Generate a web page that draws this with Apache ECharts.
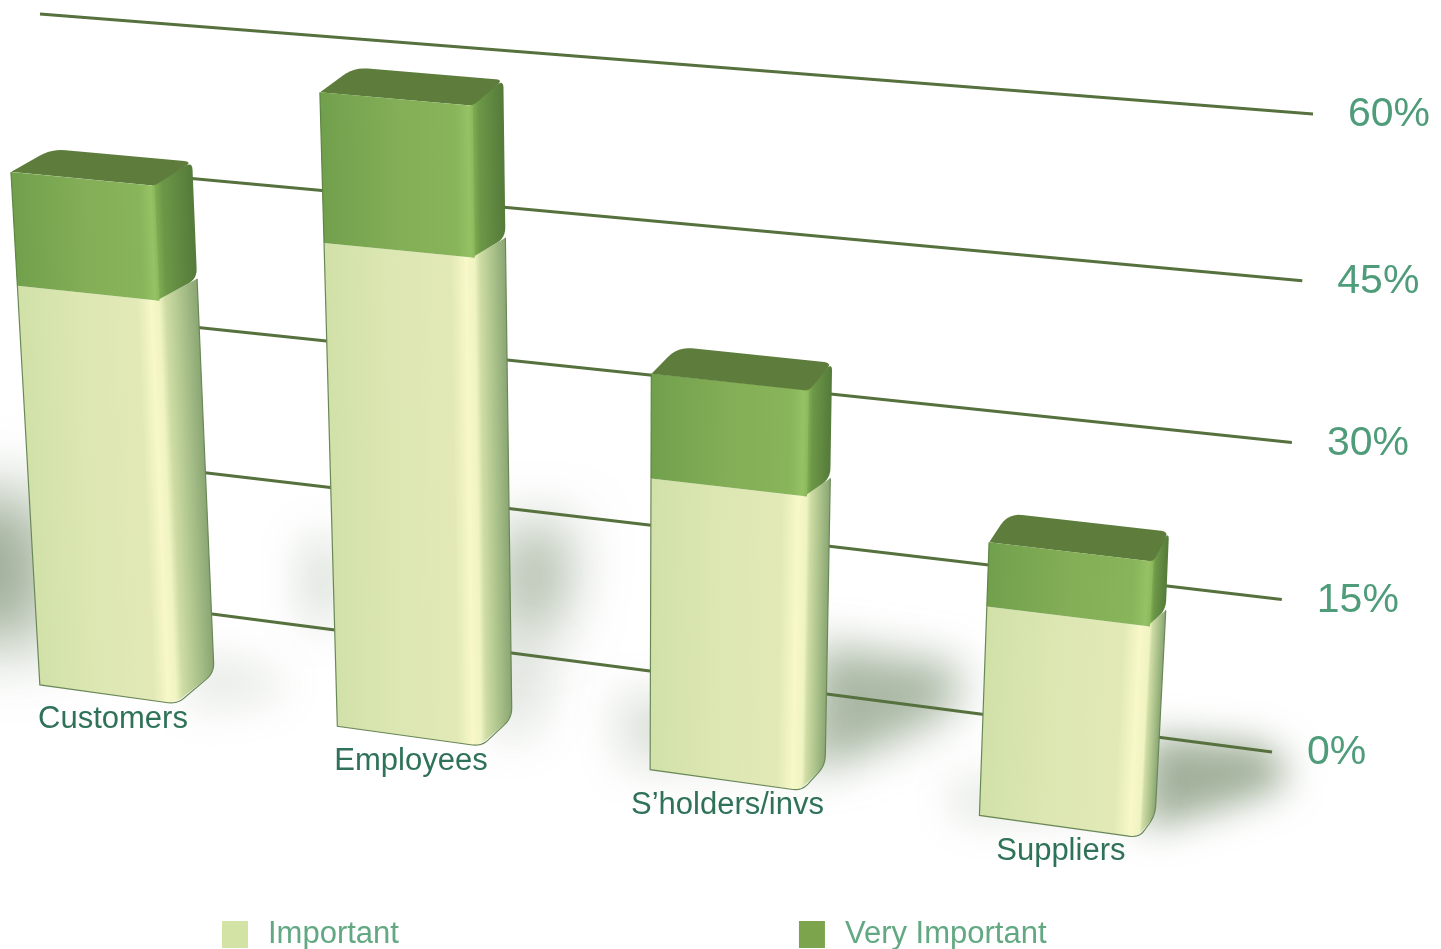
<!DOCTYPE html>
<html>
<head>
<meta charset="utf-8">
<title>Importance by stakeholder group</title>
<style>
  html, body { margin: 0; padding: 0; background: #fff; }
  #chart { width: 1441px; height: 949px; }
</style>
<script src="https://cdn.jsdelivr.net/npm/echarts@6/dist/echarts.min.js"></script>
</head>
<body>
<div id="chart"></div>
<script>
// Chart data
const categories = ['Customers', 'Employees', 'S\u2019holders/invs', 'Suppliers'];
const important = [36.8, 43.3, 26, 18.4];
const veryImportant = [10, 12.7, 9, 5.5];
const percentTicks = [0, 15, 30, 45, 60];

const FONT = '"Liberation Sans", Arial, sans-serif';

// Perspective of the plane holding the bar fronts: (band index, percent) -> screen.
const FRONT_PLANE = [
  [290.9, -0.632, 108],
  [23.67, -11.2, 694.4],
  [-0.0246, -0.00102, 1]
];
const BAR_HALF_WIDTH = 0.2335;

// Corners of the back wall carrying the gridlines: bottom-left, bottom-right, top-right, top-left.
const WALL_CORNERS = [[70, 595.5], [1272, 752], [1313, 114], [40, 14]];

// Small sideways corrections for the category captions.
const CAPTION_NUDGE = [5, 2, 2, 2];

// Soft floor shadows, as offsets from each bar's rear base corner.
const SHADOW_LAYOUT = [
  [
    { pts: [[-330, -175], [-165, -175], [-165, -25], [-330, -50]], alpha: 0.72, blur: 34 },
    { pts: [[-20, -20], [75, 5], [60, 25], [-30, 35]], alpha: 0.2, blur: 22 }
  ],
  [
    { pts: [[-10, -190], [60, -192], [48, -92], [-10, -80]], alpha: 0.6, blur: 28 },
    { pts: [[-205, -178], [-175, -178], [-175, -95], [-205, -95]], alpha: 0.34, blur: 22 },
    { pts: [[-20, -80], [45, -60], [20, 15], [-20, 20]], alpha: 0.24, blur: 24 }
  ],
  [
    { pts: [[-10, -122], [135, -100], [130, -55], [60, -20], [-10, 5]], alpha: 0.62, blur: 22 },
    { pts: [[-210, -70], [0, -70], [0, 0], [-200, 0]], alpha: 0.25, blur: 22 }
  ],
  [
    { pts: [[-8, -80], [105, -72], [130, -55], [128, -28], [60, -5], [-8, 14]], alpha: 0.68, blur: 18 },
    { pts: [[-205, -35], [0, -35], [0, 0], [-200, 5]], alpha: 0.2, blur: 20 }
  ]
];

function applyPlane(M, a, b) {
  const w = M[2][0] * a + M[2][1] * b + M[2][2];
  return [(M[0][0] * a + M[0][1] * b + M[0][2]) / w, (M[1][0] * a + M[1][1] * b + M[1][2]) / w];
}

// Matrix taking the unit square onto a four-cornered quad.
function squareToQuad(q) {
  const [[x0, y0], [x1, y1], [x2, y2], [x3, y3]] = q;
  const sx = x0 - x1 + x2 - x3, sy = y0 - y1 + y2 - y3;
  const dx1 = x1 - x2, dx2 = x3 - x2, dy1 = y1 - y2, dy2 = y3 - y2;
  const z = dx1 * dy2 - dx2 * dy1;
  const g = (sx * dy2 - dx2 * sy) / z, h = (dx1 * sy - sx * dy1) / z;
  return [
    [x1 - x0 + g * x1, x3 - x0 + h * x3, x0],
    [y1 - y0 + g * y1, y3 - y0 + h * y3, y0],
    [g, h, 1]
  ];
}
const WALL_PLANE = squareToQuad(WALL_CORNERS);

// Screen offsets from a bar's front face to its rear face, at three heights.
const rearX = (p) => p[0] + 41 - 0.022 * p[0];
const rearTop = (p) => [rearX(p), p[1] - (23 + 0.006 * p[0])];
const rearSplit = (p) => [rearX(p), p[1] - (23 - 0.006 * p[0])];
const rearBase = (p) => [rearX(p), p[1] - (33 - 0.0095 * p[0])];

// Polygon outline with softened corners; radii are per vertex.
function roundPoly(pts, radii) {
  const out = [];
  const n = pts.length;
  pts.forEach((p, i) => {
    const r = radii[i] || 0;
    if (!r) { out.push(p); return; }
    const prev = pts[(i + n - 1) % n], next = pts[(i + 1) % n];
    const lp = Math.hypot(prev[0] - p[0], prev[1] - p[1]);
    const ln = Math.hypot(next[0] - p[0], next[1] - p[1]);
    const fa = Math.min(r / lp, 0.5), fb = Math.min(r / ln, 0.5);
    const a = [p[0] + (prev[0] - p[0]) * fa, p[1] + (prev[1] - p[1]) * fa];
    const b = [p[0] + (next[0] - p[0]) * fb, p[1] + (next[1] - p[1]) * fb];
    for (let k = 0; k <= 6; k++) {
      const s = k / 6, q = 1 - s;
      out.push([
        q * q * a[0] + 2 * q * s * p[0] + s * s * b[0],
        q * q * a[1] + 2 * q * s * p[1] + s * s * b[1]
      ]);
    }
  });
  return out;
}

// Gradient running across a face, at right angles to its far edge.
function acrossFace(fromA, fromB, toA, toB, stops) {
  const ex = toB[0] - toA[0], ey = toB[1] - toA[1], len = Math.hypot(ex, ey);
  let nx = ey / len, ny = -ex / len;
  const mx = (toA[0] + toB[0]) / 2, my = (toA[1] + toB[1]) / 2;
  const lx = (fromA[0] + fromB[0]) / 2, ly = (fromA[1] + fromB[1]) / 2;
  let d = (mx - lx) * nx + (my - ly) * ny;
  if (d < 0) { nx = -nx; ny = -ny; d = -d; }
  return {
    type: 'linear', global: true,
    x: mx - nx * d, y: my - ny * d, x2: mx, y2: my,
    colorStops: stops.map(([offset, color]) => ({ offset, color }))
  };
}

// Reads a band index and percentage back out of the chart's own axes.
function axisPosition(api, index, value) {
  const origin = api.coord([0, 0]);
  const size = api.size([1, 1]);
  const c = api.coord([index, value]);
  return [(c[0] - origin[0]) / size[0], (origin[1] - c[1]) / size[1]];
}

function barFace(api) {
  const i = api.value(0);
  const [t, v0] = axisPosition(api, i, api.value(1));
  const [, v1] = axisPosition(api, i, api.value(2));
  const bl = applyPlane(FRONT_PLANE, t - BAR_HALF_WIDTH, v0);
  const br = applyPlane(FRONT_PLANE, t + BAR_HALF_WIDTH, v0);
  const tr = applyPlane(FRONT_PLANE, t + BAR_HALF_WIDTH, v1);
  const tl = applyPlane(FRONT_PLANE, t - BAR_HALF_WIDTH, v1);
  return { t, v0, bl, br, tr, tl };
}

const EDGE = '#6a8857';
const tuck = (p) => [p[0] - 3, p[1]];

function renderImportant(params, api) {
  const i = api.value(0);
  const { t, v0, bl, br, tr, tl } = barFace(api);
  const rb = rearBase(br), rt = rearSplit(tr);
  const centre = applyPlane(FRONT_PLANE, t, v0);
  const children = [
    {
      type: 'polygon',
      shape: { points: roundPoly([tuck(br), tuck(tr), rt, rb], [9, 0, 0, 10]) },
      style: {
        fill: acrossFace(br, tr, rb, rt, [
          [0, '#eef2c0'], [0.16, '#cfdda5'], [0.55, '#aec48d'], [1, '#8aa673']
        ])
      }
    },
    {
      type: 'polygon',
      shape: { points: roundPoly([bl, br, tr, tl], [0, 9, 0, 0]) },
      style: {
        fill: acrossFace(bl, tl, br, tr, [
          [0, '#d1e1a8'], [0.45, '#dde7b3'], [0.84, '#e2e9b7'], [0.94, '#f8f8c9'], [1, '#eff3c1']
        ])
      }
    },
    {
      type: 'polyline',
      shape: { points: roundPoly([tl, bl, br, rb, rt], [0, 0, 9, 10, 0]) },
      style: { fill: 'none', stroke: EDGE, lineWidth: 1.2 }
    },
    {
      type: 'text',
      x: centre[0] + CAPTION_NUDGE[i], y: centre[1] + 25.5,
      style: {
        text: categories[i],
        font: '31px ' + FONT, fill: '#2f7259', align: 'center', verticalAlign: 'middle'
      }
    }
  ];
  return { type: 'group', children };
}

function renderVeryImportant(params, api) {
  const { bl, br, tr, tl } = barFace(api);
  const rb = rearSplit(br), rt = rearTop(tr), rl = rearTop(tl);
  return {
    type: 'group',
    children: [
      {
        type: 'polygon',
        shape: { points: roundPoly([tuck(br), tuck(tr), rt, rb], [0, 0, 8, 10]) },
        style: {
          fill: acrossFace(br, tr, rb, rt, [
            [0, '#7fad52'], [0.2, '#6c9747'], [1, '#557a3a']
          ])
        }
      },
      {
        type: 'polygon',
        shape: { points: roundPoly([tl, tr, rt, rl], [2, 5, 8, 14]) },
        style: { fill: '#5e7d3c' }
      },
      {
        type: 'polygon',
        shape: { points: [bl, br, tr, tl] },
        style: {
          fill: acrossFace(bl, tl, br, tr, [
            [0, '#71a04c'], [0.5, '#84ae57'], [0.88, '#88b45a'], [0.97, '#96c265'], [1, '#8ab85b']
          ])
        }
      },
      {
        type: 'polyline',
        shape: { points: [bl, tl] },
        style: { fill: 'none', stroke: '#5f8542', lineWidth: 1.2 }
      }
    ]
  };
}

function renderShadow(params, api) {
  const i = api.value(0);
  const [t] = axisPosition(api, i, 0);
  const anchor = rearBase(applyPlane(FRONT_PLANE, t + BAR_HALF_WIDTH, 0));
  const SHIFT = 3000;
  return {
    type: 'group',
    children: SHADOW_LAYOUT[i].map((s) => ({
      type: 'polygon',
      silent: true,
      shape: { points: s.pts.map((p) => [anchor[0] + p[0] - SHIFT, anchor[1] + p[1]]) },
      style: {
        fill: '#000',
        shadowBlur: s.blur * 2,
        shadowOffsetX: SHIFT,
        shadowColor: 'rgba(118,140,108,' + s.alpha + ')'
      }
    }))
  };
}

function renderGridline(params, api) {
  const cs = params.coordSys;
  const value = api.value(1);
  const r = (cs.y + cs.height - api.coord([0, value])[1]) / cs.height;
  const a = applyPlane(WALL_PLANE, 0, r);
  const b = applyPlane(WALL_PLANE, 1, r);
  return {
    type: 'group',
    children: [
      {
        type: 'line',
        shape: { x1: a[0], y1: a[1], x2: b[0], y2: b[1] },
        style: { stroke: '#56703e', lineWidth: 3 }
      },
      {
        type: 'text',
        x: b[0] + 35, y: b[1] + 1,
        style: {
          text: value + '%',
          font: '41px ' + FONT, fill: '#4f9c7a', align: 'left', verticalAlign: 'middle'
        }
      }
    ]
  };
}

const chart = echarts.init(document.getElementById('chart'));
chart.setOption({
  animation: false,
  backgroundColor: '#ffffff',
  grid: { left: 0, right: 0, top: 0, bottom: 0 },
  xAxis: { type: 'category', data: categories, show: false },
  yAxis: { type: 'value', min: 0, max: 60, interval: 15, show: false },
  legend: {
    data: ['Important', 'Very Important'],
    left: 217, top: 914,
    itemWidth: 26, itemHeight: 27, itemGap: 400,
    icon: 'rect',
    selectedMode: false,
    textStyle: { fontFamily: FONT, fontSize: 31, color: '#62a882', padding: [0, 0, 0, 15] }
  },
  series: [
    {
      type: 'custom', name: 'floor', silent: true,
      renderItem: renderShadow,
      encode: { x: 0, y: 1 },
      data: categories.map((c, i) => [i, 0])
    },
    {
      type: 'custom', name: 'gridlines', silent: true,
      renderItem: renderGridline,
      encode: { x: 0, y: 1 },
      data: percentTicks.map((p) => [0, p])
    },
    {
      type: 'custom', name: 'Important',
      itemStyle: { color: '#d3e3a5' },
      renderItem: renderImportant,
      encode: { x: 0, y: [1, 2] },
      data: important.map((v, i) => [i, 0, v])
    },
    {
      type: 'custom', name: 'Very Important',
      itemStyle: { color: '#7ba44d' },
      renderItem: renderVeryImportant,
      encode: { x: 0, y: [1, 2] },
      data: veryImportant.map((v, i) => [i, important[i], important[i] + v])
    }
  ]
});
</script>
</body>
</html>
